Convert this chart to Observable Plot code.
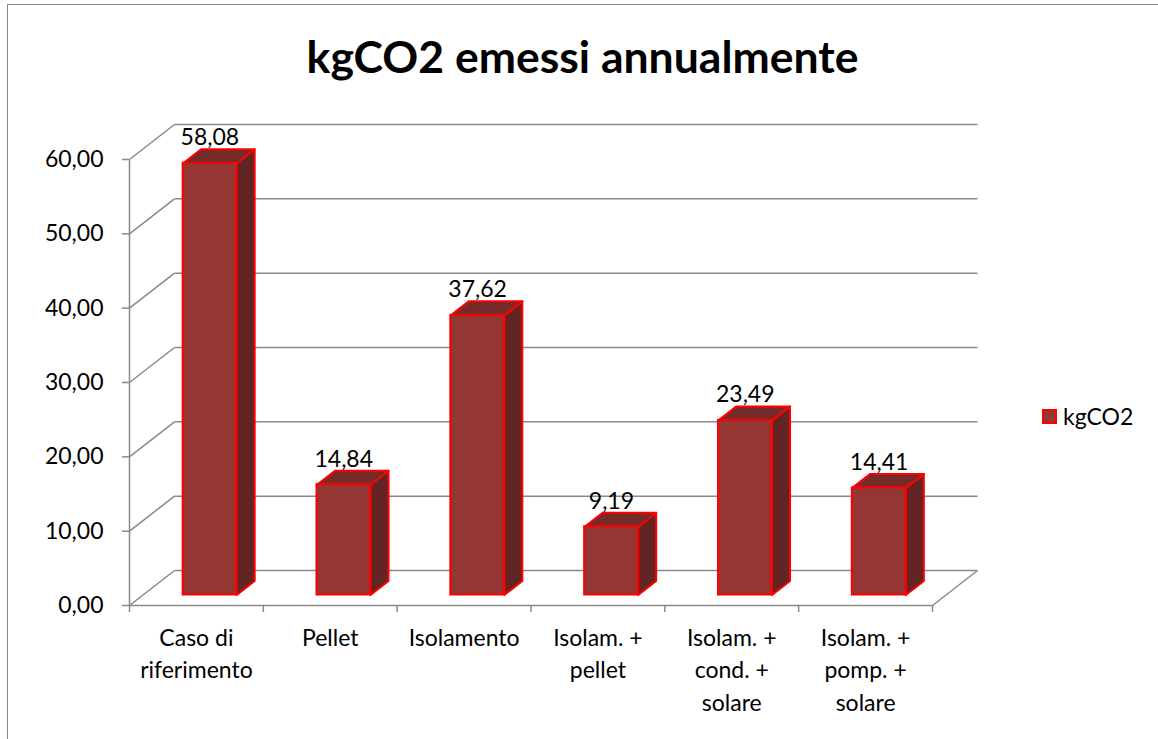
<!DOCTYPE html>
<html>
<head>
<meta charset="utf-8">
<script src="https://cdn.jsdelivr.net/npm/d3@7"></script>
<script src="https://cdn.jsdelivr.net/npm/@observablehq/plot@0.6"></script>
<style>
  html, body { margin: 0; padding: 0; background: #fff; width: 1158px; height: 739px; overflow: hidden; }
  #frame { position: absolute; left: 7px; top: 4px; width: 2000px; height: 2000px; border: 1.5px solid #8a8a8a; }
  #title { position: absolute; left: 0; top: 31px; width: 1165px; text-align: center; font-family: Lato, sans-serif; font-weight: 700; font-size: 44.5px; line-height: 50px; color: #000; }
  #chart { position: absolute; left: 0; top: 0; }
  #legend { position: absolute; left: 1042px; top: 402px; display: flex; align-items: center; font-family: Lato, sans-serif; font-size: 23px; color: #000; }
  #legend .sw { width: 15px; height: 15px; box-sizing: border-box; background: #943634; border: 2px solid #ff0000; margin-right: 6px; }
</style>
</head>
<body>
<div id="frame"></div>
<div id="chart"></div>
<div id="title"></div>
<div id="legend"></div>
<script>
// ---- data ----
const categories = ["Caso di\nriferimento", "Pellet", "Isolamento", "Isolam. +\npellet", "Isolam. +\ncond. +\nsolare", "Isolam. +\npomp. +\nsolare"];
const values = [58.08, 14.84, 37.62, 9.19, 23.49, 14.41];
const yTicks = [0, 10, 20, 30, 40, 50, 60];
const seriesName = "kgCO2";
const titleText = "kgCO2 emessi annualmente";

// ---- layout / style ----
const W = 1158, H = 739;
const mL = 129, mR = 226, mT = 159, mB = 134;
const n = categories.length;
const yMax = 60;
// oblique depth offset of the 3D box (pixels), converted to data units
const depthPx = {x: 45, y: 35};
const DX = depthPx.x / ((W - mL - mR) / n);
const DY = depthPx.y / ((H - mT - mB) / yMax);
const barLo = 0.3, barHi = 0.7;     // bar extent within category (gap 150%)
const wFront = 0.3, wBack = 0.7;    // bar extent in depth
const gridColor = "#898989";
const fs = 23;
const fmt = d => d.toFixed(2).replace(".", ",");

const P = (u, v, w) => ({x: u + DX * w, y: v + DY * w});

const sides = [], tops = [];
values.forEach((v, i) => {
  [P(i + barHi, 0, wFront), P(i + barHi, 0, wBack), P(i + barHi, v, wBack), P(i + barHi, v, wFront)]
    .forEach(p => sides.push({...p, id: i}));
  [P(i + barLo, v, wFront), P(i + barHi, v, wFront), P(i + barHi, v, wBack), P(i + barLo, v, wBack)]
    .forEach(p => tops.push({...p, id: i}));
});

const chart = Plot.plot({
  width: W, height: H,
  marginLeft: mL, marginRight: mR, marginTop: mT, marginBottom: mB,
  x: {type: "linear", domain: [0, n], axis: null},
  y: {type: "linear", domain: [0, yMax], axis: null},
  style: {fontFamily: "Lato, sans-serif", background: "transparent", color: "#000"},
  marks: [
    // back wall gridlines
    Plot.link(yTicks, {x1: DX, y1: t => t + DY, x2: n + DX, y2: t => t + DY, stroke: gridColor, strokeWidth: 1.5}),
    // side wall diagonals
    Plot.link(yTicks, {x1: 0, y1: t => t, x2: DX, y2: t => t + DY, stroke: gridColor, strokeWidth: 1.5}),
    // floor right edge
    Plot.link([0], {x1: n, y1: 0, x2: n + DX, y2: DY, stroke: gridColor, strokeWidth: 1.5}),
    // front axes
    Plot.link([0], {x1: 0, y1: 0, x2: n, y2: 0, stroke: gridColor, strokeWidth: 1.5}),
    Plot.link([0], {x1: 0, y1: 0, x2: 0, y2: yMax, stroke: gridColor, strokeWidth: 1.5}),
    Plot.axisY({ticks: yTicks, label: null, tickSize: 7, tickPadding: 19, tickFormat: fmt, fontSize: fs, stroke: gridColor, strokeWidth: 1.5, fill: "#000"}),
    Plot.axisX({ticks: d3.range(n + 1), label: null, tickSize: 7, tickFormat: () => "", stroke: gridColor, strokeWidth: 1.5}),
    // category labels
    Plot.text(categories, {x: (d, i) => i + 0.5, y: 0, text: d => d, dy: 17, lineAnchor: "top", fontSize: fs, lineHeight: 1.42, fill: "#000"}),
    // bars: side, top, front
    Plot.line(sides, {x: "x", y: "y", z: "id", curve: "linear-closed", fill: "#632523", stroke: "#ff0000", strokeWidth: 2, strokeLinejoin: "round"}),
    Plot.line(tops, {x: "x", y: "y", z: "id", curve: "linear-closed", fill: "#742b29", stroke: "#ff0000", strokeWidth: 2, strokeLinejoin: "round"}),
    Plot.rect(values, {x1: (d, i) => i + barLo + DX * wFront, x2: (d, i) => i + barHi + DX * wFront, y1: DY * wFront, y2: d => d + DY * wFront, fill: "#943634", stroke: "#ff0000", strokeWidth: 2}),
    // value labels
    Plot.text(values, {x: (d, i) => i + 0.5 + DX * wFront, y: d => d + DY * wBack, text: fmt, dy: -4, lineAnchor: "bottom", fontSize: fs, fill: "#000"})
  ]
});
document.getElementById("chart").appendChild(chart);
document.getElementById("title").textContent = titleText;
document.getElementById("legend").innerHTML = `<div class="sw"></div><span>${seriesName}</span>`;
</script>
</body>
</html>
